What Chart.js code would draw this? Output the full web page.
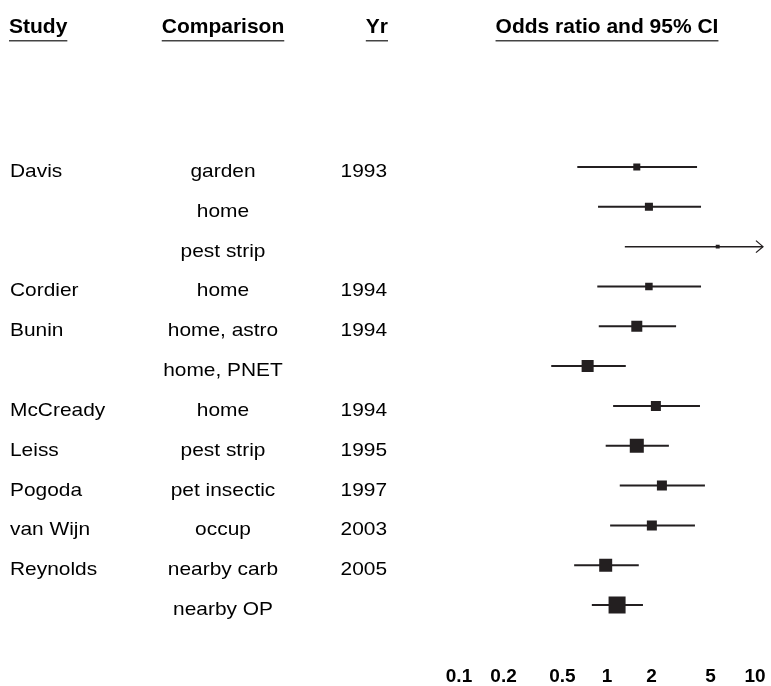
<!DOCTYPE html>
<html>
<head>
<meta charset="utf-8">
<script src="https://cdn.jsdelivr.net/npm/chart.js@4.4.1/dist/chart.umd.min.js"></script>
<style>
  html, body { margin: 0; padding: 0; background: #fff; }
  #wrap { position: relative; width: 771px; height: 686px; }
</style>
</head>
<body>
<div id="wrap"><canvas id="forest"></canvas></div>
<script>
// one row per comparison, top to bottom
const studies = ['Davis', '', '', 'Cordier', 'Bunin', '', 'McCready', 'Leiss', 'Pogoda', 'van Wijn', 'Reynolds', ''];
const comparisons = ['garden', 'home', 'pest strip', 'home', 'home, astro', 'home, PNET', 'home', 'pest strip', 'pet insectic', 'occup', 'nearby carb', 'nearby OP'];
const years = ['1993', '', '', '1994', '1994', '', '1994', '1995', '1997', '2003', '2005', ''];
const oddsRatio = [1.59, 1.92, 5.6, 1.92, 1.59, 0.74, 2.14, 1.59, 2.35, 2.01, 0.98, 1.17];
const lowerCI = [0.63, 0.87, 1.32, 0.86, 0.88, 0.42, 1.10, 0.98, 1.22, 1.05, 0.60, 0.79];
const upperCI = [4.06, 4.32, 24.0, 4.32, 2.93, 1.34, 4.25, 2.62, 4.59, 3.93, 1.64, 1.75];
const weights = [3.5, 4.6, 1.1, 4.0, 8.6, 10.3, 7.1, 14.0, 7.1, 7.1, 12.0, 20.6]; // relative weight (%)
const tickValues = [0.1, 0.2, 0.5, 1, 2, 5, 10];

const ink = '#231f20';
const family = '"Liberation Sans", Arial, Helvetica, sans-serif';
const rows = oddsRatio.map((_, i) => i);

// CI whiskers, one short line per row (a few px allowed past the right edge for the arrow)
const ciSets = rows.map(i => ({
  type: 'line',
  data: [{ x: lowerCI[i], y: i }, { x: upperCI[i], y: i }],
  borderColor: ink,
  borderWidth: i === 2 ? 1.5 : 2,
  pointRadius: 0,
  clip: { left: 2, top: false, right: 4, bottom: false },
  order: 2
}));

// weight boxes (area ~ weight)
const boxSet = {
  type: 'scatter',
  data: rows.map(i => ({ x: oddsRatio[i], y: i })),
  pointStyle: 'rect',
  pointRadius: weights.map(w => 3.75 * Math.sqrt(w) / Math.SQRT2),
  backgroundColor: ink,
  borderColor: ink,
  borderWidth: 0,
  order: 1
};

function stretchText(ctx, txt, x, y, align) {
  ctx.save();
  ctx.translate(x, y);
  ctx.scale(1.1, 1);
  ctx.textAlign = align;
  ctx.fillText(txt, 0, 0);
  ctx.restore();
}

const forestText = {
  id: 'forestText',
  afterDatasetsDraw(chart) {
    const ctx = chart.ctx, xs = chart.scales.x, ys = chart.scales.y;
    ctx.save();
    // arrows for CIs running off the axis
    ctx.strokeStyle = ink;
    ctx.lineWidth = 1.3;
    rows.forEach(i => {
      if (upperCI[i] > xs.max) {
        const tip = chart.chartArea.right + 4, py = ys.getPixelForValue(i);
        ctx.beginPath();
        ctx.moveTo(tip - 7, py - 6);
        ctx.lineTo(tip, py);
        ctx.lineTo(tip - 7, py + 6);
        ctx.stroke();
      }
    });

    // column headers
    ctx.textBaseline = 'alphabetic';
    ctx.font = 'bold 21px ' + family;
    const heads = [
      ['Study', 9, 'left'],
      ['Comparison', 223, 'center'],
      ['Yr', 388, 'right'],
      ['Odds ratio and 95% CI', xs.getPixelForValue(1), 'center']
    ];
    heads.forEach(([t, hx, al]) => {
      ctx.textAlign = al;
      ctx.fillStyle = '#000';
      ctx.fillText(t, hx, 33);
      const w = ctx.measureText(t).width;
      const x0 = al === 'left' ? hx : al === 'center' ? hx - w / 2 : hx - w;
      ctx.fillStyle = '#444';
      ctx.fillRect(x0, 40, w, 1.5);
    });

    // row labels
    ctx.fillStyle = '#000';
    ctx.font = '19px ' + family;
    rows.forEach(i => {
      const py = ys.getPixelForValue(i) + 10;
      stretchText(ctx, studies[i], 10, py, 'left');
      stretchText(ctx, comparisons[i], 223, py, 'center');
      stretchText(ctx, years[i], 387, py, 'right');
    });
    ctx.restore();
  }
};

new Chart(document.getElementById('forest'), {
  data: { datasets: [...ciSets, boxSet] },
  options: {
    responsive: true,
    maintainAspectRatio: false,
    animation: false,
    events: [],
    layout: { padding: { top: 47.5, left: 459, right: 6, bottom: 0 } },
    plugins: { legend: { display: false }, tooltip: { enabled: false } },
    scales: {
      x: {
        type: 'logarithmic',
        min: 0.1,
        max: 10.64,
        afterBuildTicks: s => { s.ticks = tickValues.map(v => ({ value: v })); },
        afterFit: s => { s.height = 24; },
        ticks: {
          callback: v => String(v),
          font: { family: family, size: 19, weight: 'bold' },
          color: '#000',
          padding: 3,
          maxRotation: 0,
          autoSkip: false
        },
        grid: { display: false, drawTicks: false },
        border: { display: false }
      },
      y: {
        type: 'linear',
        reverse: true,
        min: -3,
        max: 12.43,
        display: false
      }
    }
  },
  plugins: [forestText]
});
</script>
</body>
</html>
